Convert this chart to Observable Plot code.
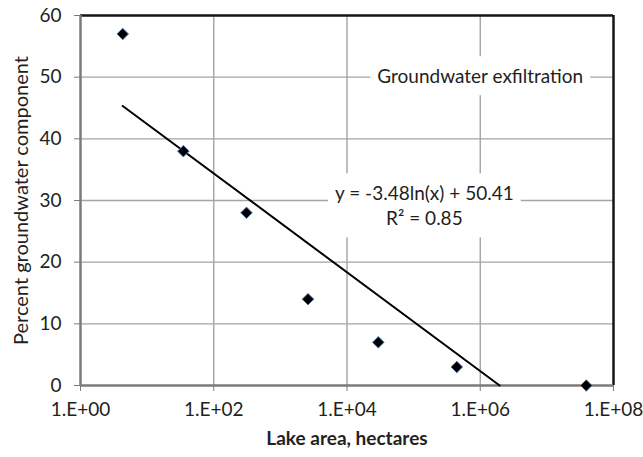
<!DOCTYPE html>
<html>
<head>
<meta charset="utf-8">
<script src="https://cdn.jsdelivr.net/npm/d3@7"></script>
<script src="https://cdn.jsdelivr.net/npm/@observablehq/plot@0.6"></script>
<style>
  html, body { margin: 0; padding: 0; background: #fff; }
  #chart svg { display: block; }
</style>
</head>
<body>
<div id="chart"></div>
<script>
// Lake area (hectares) and share of lake water from groundwater (%)
const lakeArea = [4.3, 35, 310, 2600, 29500, 445000, 3.9e7];
const groundwaterPct = [57, 38, 28, 14, 7, 3, 0];

// Axis ticks and their printed labels
const xTicks = [1, 1e2, 1e4, 1e6, 1e8];
const xTickLabels = ["1.E+00", "1.E+02", "1.E+04", "1.E+06", "1.E+08"];
const yTicks = [0, 10, 20, 30, 40, 50, 60];

// Logarithmic fit: y = slope * ln(x) + intercept
const slope = -3.48;
const intercept = 50.41;
const rSquared = 0.85;

const seriesLabel = "Groundwater exfiltration";
const xTitle = "Lake area, hectares";
const yTitle = "Percent groundwater component";

const points = lakeArea.map((area, i) => ({area, pct: groundwaterPct[i]}));

// Fitted line runs from the smallest lake until it reaches 0 %
const xStart = d3.min(lakeArea);
const xEnd = Math.exp(-intercept / slope);
const trend = [
  {area: xStart, pct: slope * Math.log(xStart) + intercept},
  {area: xEnd, pct: 0}
];
const equationLines = [
  `y = ${slope.toFixed(2)}ln(x) + ${intercept.toFixed(2)}`,
  `R² = ${rSquared.toFixed(2)}`
];
const equationText = equationLines.join("\n");

const tickLabelFor = new Map(xTicks.map((t, i) => [t, xTickLabels[i]]));

const ink = "#231f20";
const gridColor = "#a8a2a0";
const axisColor = "#7f7a78";
const font = "Lato, 'Open Sans', sans-serif";
const fs = 19;

const chart = Plot.plot({
  width: 643,
  height: 457,
  marginLeft: 80,
  marginRight: 30,
  marginTop: 15,
  marginBottom: 72,
  style: {fontFamily: font, fontSize: fs + "px", color: ink, background: "#fff"},
  x: {type: "log", domain: [1, 1e8]},
  y: {domain: [0, 60]},
  marks: [
    Plot.gridX(xTicks.slice(1, -1), {stroke: gridColor, strokeOpacity: 1, strokeWidth: 1.4}),
    Plot.gridY(yTicks.slice(1, -1), {stroke: gridColor, strokeOpacity: 1, strokeWidth: 1.4}),

    // In-plot annotations (white boxes are put behind them after rendering)
    Plot.text([seriesLabel], {
      x: 1e6, y: 50, text: d => d, fill: ink, fontSize: fs
    }),
    Plot.text([equationText], {
      x: 1.45e5, y: 29.3, text: d => d, fill: ink, fontSize: fs, lineHeight: 1.32
    }),

    // Plot frame: grey left/bottom axes, black top/right edges
    Plot.ruleX([1e8], {stroke: "#151515", strokeWidth: 2.5}),
    Plot.ruleY([60], {stroke: "#151515", strokeWidth: 2.5}),
    Plot.ruleX([1], {stroke: axisColor, strokeWidth: 2.5}),
    Plot.ruleY([0], {stroke: axisColor, strokeWidth: 2.5}),

    Plot.line(trend, {x: "area", y: "pct", stroke: "#000", strokeWidth: 2}),
    Plot.dot(points, {
      x: "area", y: "pct", symbol: "diamond2", r: 5.2,
      fill: "#000", stroke: "#5577aa", strokeWidth: 1
    }),

    Plot.axisX(xTicks, {
      tickFormat: d => tickLabelFor.get(d), tickSize: 6, tickPadding: 11,
      stroke: axisColor, fill: ink, label: null, fontSize: fs
    }),
    Plot.axisY(yTicks, {
      tickSize: 6, tickPadding: 13, stroke: axisColor, fill: ink, label: null, fontSize: fs
    }),

    // Axis titles
    Plot.text([xTitle], {
      frameAnchor: "bottom", dy: 59, text: d => d, fill: ink,
      fontSize: fs, fontWeight: "bold"
    }),
    Plot.text([yTitle], {
      frameAnchor: "left", dx: -59, rotate: -90, textAnchor: "middle",
      text: d => d, fill: ink, fontSize: 20
    })
  ]
});

document.getElementById("chart").appendChild(chart);

// Opaque boxes behind the annotations so gridlines stop at their edges
const padX = 7, padY = 8;
const boxed = new Set([seriesLabel, equationLines.join("")]);
d3.select(chart).selectAll("text").each(function () {
  if (!boxed.has(this.textContent)) return;
  const bb = this.getBBox();
  const rect = document.createElementNS("http://www.w3.org/2000/svg", "rect");
  rect.setAttribute("x", bb.x - padX);
  rect.setAttribute("y", bb.y - padY);
  rect.setAttribute("width", bb.width + 2 * padX);
  rect.setAttribute("height", bb.height + 2 * padY);
  rect.setAttribute("fill", "#fff");
  rect.setAttribute("stroke", "none");
  const t = this.getAttribute("transform");
  if (t) rect.setAttribute("transform", t);
  this.parentNode.insertBefore(rect, this);
});
</script>
</body>
</html>
